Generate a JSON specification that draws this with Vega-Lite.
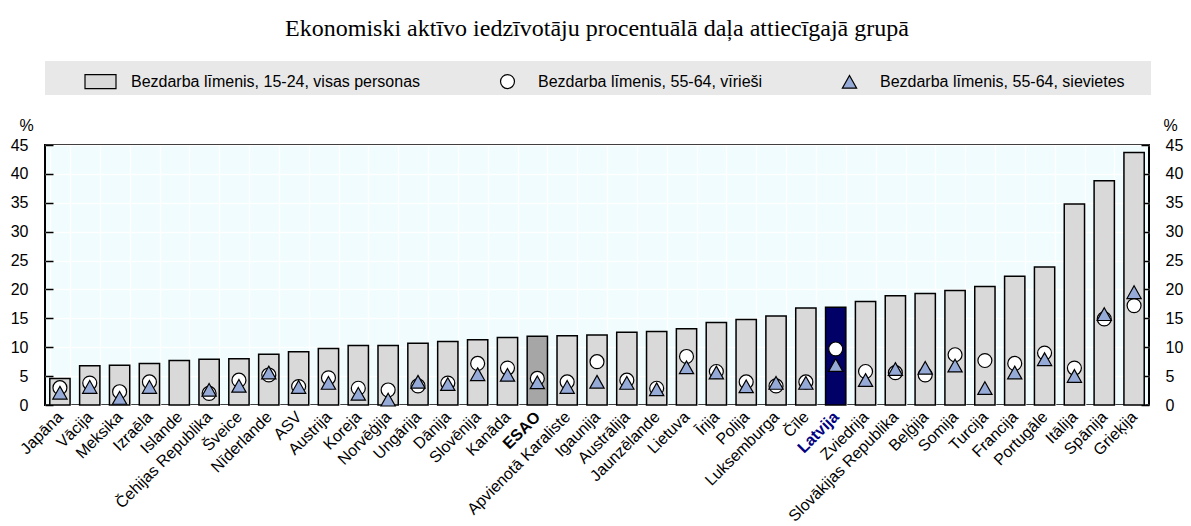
{
  "$schema": "https://vega.github.io/schema/vega-lite/v6.json",
  "width": 1104,
  "height": 260,
  "autosize": "none",
  "padding": {"left": 45, "top": 145, "right": 42, "bottom": 121},
  "background": "white",
  "title": {
    "text": "Ekonomiski aktīvo iedzīvotāju procentuālā daļa attiecīgajā grupā",
    "font": "Liberation Serif",
    "fontSize": 24,
    "fontWeight": "normal",
    "color": "black",
    "anchor": "middle",
    "offset": 20
  },
  "data": {
    "values": [
      {"country": "Japāna", "youth": 4.6, "men": 3.0, "women": 2.1},
      {"country": "Vācija", "youth": 6.8, "men": 3.8, "women": 3.1},
      {"country": "Meksika", "youth": 6.9, "men": 2.3, "women": 1.2},
      {"country": "Izraēla", "youth": 7.2, "men": 4.0, "women": 3.1},
      {"country": "Islande", "youth": 7.7, "men": null, "women": null},
      {"country": "Čehijas Republika", "youth": 7.9, "men": 2.0, "women": 2.6},
      {"country": "Šveice", "youth": 8.0, "men": 4.3, "women": 3.3},
      {"country": "Nīderlande", "youth": 8.8, "men": 5.2, "women": 5.6},
      {"country": "ASV", "youth": 9.2, "men": 3.2, "women": 3.1},
      {"country": "Austrija", "youth": 9.8, "men": 4.7, "women": 3.8},
      {"country": "Koreja", "youth": 10.3, "men": 2.9, "women": 1.9},
      {"country": "Norvēģija", "youth": 10.3, "men": 2.6, "women": 0.9},
      {"country": "Ungārija", "youth": 10.7, "men": 3.3, "women": 4.0},
      {"country": "Dānija", "youth": 11.0, "men": 3.8, "women": 3.6},
      {"country": "Slovēnija", "youth": 11.3, "men": 7.2, "women": 5.3},
      {"country": "Kanāda", "youth": 11.7, "men": 6.4, "women": 5.2},
      {"country": "ESAO", "youth": 11.9, "men": 4.6, "women": 3.9},
      {"country": "Apvienotā Karaliste", "youth": 12.0, "men": 4.0, "women": 3.1},
      {"country": "Igaunija", "youth": 12.1, "men": 7.5, "women": 4.0},
      {"country": "Austrālija", "youth": 12.6, "men": 4.3, "women": 3.8},
      {"country": "Jaunzēlande", "youth": 12.7, "men": 2.9, "women": 2.7},
      {"country": "Lietuva", "youth": 13.2, "men": 8.4, "women": 6.5},
      {"country": "Īrija", "youth": 14.3, "men": 5.8, "women": 5.6},
      {"country": "Polija", "youth": 14.8, "men": 4.0, "women": 3.2},
      {"country": "Luksemburga", "youth": 15.4, "men": 3.3, "women": 3.8},
      {"country": "Čīle", "youth": 16.8, "men": 4.0, "women": 3.8},
      {"country": "Latvija", "youth": 16.9, "men": 9.7, "women": 6.9},
      {"country": "Zviedrija", "youth": 17.9, "men": 5.8, "women": 4.3},
      {"country": "Slovākijas Republika", "youth": 18.9, "men": 5.6, "women": 6.2},
      {"country": "Beļģija", "youth": 19.3, "men": 5.2, "women": 6.4},
      {"country": "Somija", "youth": 19.8, "men": 8.7, "women": 6.8},
      {"country": "Turcija", "youth": 20.5, "men": 7.7, "women": 2.9},
      {"country": "Francija", "youth": 22.3, "men": 7.2, "women": 5.6},
      {"country": "Portugāle", "youth": 23.9, "men": 9.0, "women": 7.9},
      {"country": "Itālija", "youth": 34.8, "men": 6.4, "women": 5.0},
      {"country": "Spānija", "youth": 38.8, "men": 14.9, "women": 15.7},
      {"country": "Grieķija", "youth": 43.7, "men": 17.2, "women": 19.5}
    ]
  },
  "transform": [{"fold": ["youth", "men", "women"], "as": ["series", "value"]}],
  "encoding": {
    "x": {
      "field": "country",
      "type": "nominal",
      "sort": null,
      "scale": {"paddingInner": 0.32, "paddingOuter": 0.16},
      "axis": {
        "title": null,
        "labelAngle": -45,
        "labelAlign": "right",
        "labelBaseline": "middle",
        "labelFontSize": 16,
        "labelPadding": 9,
        "labelFont": "Liberation Sans",
        "labelLimit": 0,
        "labelColor": {"condition": {"test": "datum.value === 'Latvija'", "value": "#000080"}, "value": "black"},
        "labelFontWeight": {"condition": {"test": "datum.value === 'Latvija' || datum.value === 'ESAO'", "value": "bold"}, "value": "normal"},
        "ticks": false,
        "domain": false,
        "grid": true,
        "tickBand": "extent",
        "gridColor": "white",
        "gridWidth": 1.5
      }
    }
  },
  "layer": [
    {
      "transform": [{"filter": "datum.series === 'youth'"}],
      "mark": {"type": "bar", "stroke": "black", "strokeWidth": 1.5},
      "encoding": {
        "y": {
          "field": "value",
          "type": "quantitative",
          "scale": {"domain": [0, 45], "nice": false},
          "axis": {
            "orient": "left",
            "values": [0, 5, 10, 15, 20, 25, 30, 35, 40, 45],
            "grid": true,
            "gridColor": "white",
            "gridWidth": 1.5,
            "domain": false,
            "tickColor": "black",
            "tickWidth": 1.5,
            "tickSize": -8,
            "labelPadding": 25,
            "labelFontSize": 16,
            "labelFont": "Liberation Sans",
            "labelColor": "black",
            "title": "%",
            "titleAngle": 0,
            "titleX": -19,
            "titleY": -15,
            "titleAlign": "center",
            "titleBaseline": "alphabetic",
            "titleFontSize": 16,
            "titleFontWeight": "normal",
            "titleFont": "Liberation Sans",
            "titleColor": "black"
          }
        },
        "fill": {
          "condition": [
            {"test": "datum.country === 'Latvija'", "value": "#000066"},
            {"test": "datum.country === 'ESAO'", "value": "#a6a6a6"}
          ],
          "value": "#d9d9d9"
        }
      }
    },
    {
      "transform": [{"filter": "datum.series !== 'youth'"}],
      "mark": {"type": "point", "filled": true, "opacity": 1, "size": 961, "strokeWidth": 1.2},
      "encoding": {
        "y": {
          "field": "value",
          "type": "quantitative",
          "scale": {"domain": [0, 45], "nice": false},
          "axis": {
            "orient": "right",
            "values": [0, 5, 10, 15, 20, 25, 30, 35, 40, 45],
            "grid": false,
            "domain": false,
            "tickColor": "black",
            "tickWidth": 1.5,
            "tickSize": -8,
            "labelPadding": 24,
            "labelFontSize": 16,
            "labelFont": "Liberation Sans",
            "labelColor": "black",
            "title": "%",
            "titleAngle": 0,
            "titleX": 21,
            "titleY": -15,
            "titleAlign": "center",
            "titleBaseline": "alphabetic",
            "titleFontSize": 16,
            "titleFontWeight": "normal",
            "titleFont": "Liberation Sans",
            "titleColor": "black"
          }
        },
        "shape": {
          "field": "series",
          "type": "nominal",
          "scale": {
            "domain": ["youth", "men", "women"],
            "range": [
              "M-1,-0.45H1V0.45H-1Z",
              "M0.45,0A0.45,0.45,0,1,1,-0.45,0A0.45,0.45,0,1,1,0.45,0Z",
              "M0,-0.42L0.46,0.4L-0.46,0.4Z"
            ]
          },
          "legend": {
            "orient": "none",
            "legendX": 0,
            "legendY": -84,
            "direction": "horizontal",
            "columns": 3,
            "gridAlign": "each",
            "columnPadding": 70,
            "padding": 4,
            "fillColor": "#e8e8e8",
            "labelFontSize": 16,
            "labelFont": "Liberation Sans",
            "labelColor": "black",
            "labelLimit": 0,
            "labelOffset": 14,
            "symbolSize": 961,
            "symbolStrokeWidth": 1.2,
            "title": " ",
            "titleOrient": "left",
            "titlePadding": 35,
            "labelExpr": "datum.value === 'youth' ? 'Bezdarba līmenis, 15-24, visas personas' : datum.value === 'men' ? 'Bezdarba līmenis, 55-64, vīrieši' : 'Bezdarba līmenis, 55-64, sievietes\u00a0\u00a0\u00a0\u00a0\u00a0\u200b'"
          }
        },
        "fill": {
          "field": "series",
          "type": "nominal",
          "scale": {"domain": ["youth", "men", "women"], "range": ["#d9d9d9", "#ffffff", "#96aad7"]},
          "legend": {
            "orient": "none",
            "legendX": 0,
            "legendY": -84,
            "direction": "horizontal",
            "columns": 3,
            "gridAlign": "each",
            "columnPadding": 70,
            "padding": 4,
            "fillColor": "#e8e8e8",
            "labelFontSize": 16,
            "labelFont": "Liberation Sans",
            "labelColor": "black",
            "labelLimit": 0,
            "labelOffset": 14,
            "symbolSize": 961,
            "symbolStrokeWidth": 1.2,
            "title": " ",
            "titleOrient": "left",
            "titlePadding": 35,
            "labelExpr": "datum.value === 'youth' ? 'Bezdarba līmenis, 15-24, visas personas' : datum.value === 'men' ? 'Bezdarba līmenis, 55-64, vīrieši' : 'Bezdarba līmenis, 55-64, sievietes\u00a0\u00a0\u00a0\u00a0\u00a0\u200b'"
          }
        },
        "stroke": {
          "field": "series",
          "type": "nominal",
          "scale": {"domain": ["youth", "men", "women"], "range": ["#000000", "#000000", "#000000"]},
          "legend": {
            "orient": "none",
            "legendX": 0,
            "legendY": -84,
            "direction": "horizontal",
            "columns": 3,
            "gridAlign": "each",
            "columnPadding": 70,
            "padding": 4,
            "fillColor": "#e8e8e8",
            "labelFontSize": 16,
            "labelFont": "Liberation Sans",
            "labelColor": "black",
            "labelLimit": 0,
            "labelOffset": 14,
            "symbolSize": 961,
            "symbolStrokeWidth": 1.2,
            "title": " ",
            "titleOrient": "left",
            "titlePadding": 35,
            "labelExpr": "datum.value === 'youth' ? 'Bezdarba līmenis, 15-24, visas personas' : datum.value === 'men' ? 'Bezdarba līmenis, 55-64, vīrieši' : 'Bezdarba līmenis, 55-64, sievietes\u00a0\u00a0\u00a0\u00a0\u00a0\u200b'"
          }
        }
      }
    }
  ],
  "resolve": {"axis": {"y": "independent"}},
  "config": {
    "font": "Liberation Sans",
    "view": {"stroke": "black", "strokeWidth": 2, "fill": "#f0fcfd"}
  }
}
